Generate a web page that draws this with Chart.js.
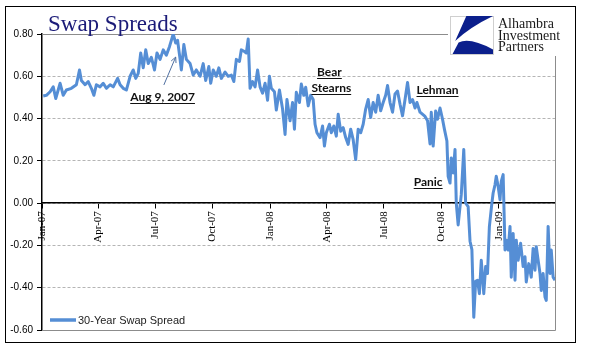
<!DOCTYPE html>
<html>
<head>
<meta charset="utf-8">
<script src="https://cdn.jsdelivr.net/npm/chart.js@4.4.0/dist/chart.umd.min.js"></script>
<style>
  html, body { margin: 0; padding: 0; background: #fff; }
</style>
</head>
<body>
<canvas id="swapChart" width="598" height="361"></canvas>
<script>
// =================== DATA ===================
// x = days since 1 Jan 2007, y = 30-year swap spread
const days = [
  2, 7, 13, 18, 22, 29, 34, 39, 47, 55, 60, 63, 69, 74, 79, 83, 87, 93, 98, 103,
  109, 114, 121, 125, 130, 135, 141, 146, 150, 154, 158, 162, 166, 170, 175, 180, 184, 189, 194, 199,
  204, 207, 210, 214, 217, 221, 223, 227, 231, 237, 242, 247, 253, 258, 262, 267, 270, 274, 279, 283,
  287, 293, 298, 303, 307, 311, 316, 319, 324, 327, 330, 333, 337, 341, 345, 349, 353, 357, 361, 364,
  367, 372, 375, 380,
  385, 389, 392, 397, 401, 404, 407, 412, 415, 419, 422, 426, 430, 434, 437, 440, 445, 449, 452, 455,
  460, 463, 467, 471, 474, 478, 482, 486, 490, 494, 498, 502, 506, 510, 514, 518, 522, 526, 530, 534,
  538, 542, 546, 550, 553, 557, 561, 565, 569, 573, 577, 581, 585, 589, 593, 597, 600, 605,
  613, 617, 621, 623, 626, 630, 633, 637, 641, 644, 648, 650, 653, 655, 658, 661, 663, 666, 669, 671,
  675, 678, 682, 685, 688, 691, 694, 697, 700, 703, 707, 710, 713, 716, 720, 722, 725, 727, 730, 733,
  735, 738, 741, 743, 746, 749, 751, 754, 757, 759, 762, 766, 770, 773, 775, 779, 783, 786, 789, 791,
  794, 797, 799, 802, 805, 807, 810, 813, 815, 818, 821
];
const spread = [
  0.507, 0.51, 0.527, 0.55, 0.495, 0.567, 0.51, 0.535, 0.543, 0.56, 0.63, 0.58, 0.56, 0.575, 0.543, 0.51, 0.56, 0.55, 0.567, 0.543,
  0.56, 0.55, 0.59, 0.56, 0.543, 0.535, 0.60, 0.63, 0.59, 0.614, 0.71, 0.64, 0.725, 0.66, 0.69, 0.63, 0.71, 0.68, 0.725, 0.70,
  0.74, 0.77, 0.80, 0.757, 0.77, 0.68, 0.63, 0.75, 0.68, 0.66, 0.606, 0.63, 0.60, 0.66, 0.58, 0.646, 0.567, 0.63, 0.60, 0.64,
  0.59, 0.62, 0.60, 0.606, 0.575, 0.68, 0.67, 0.725, 0.717, 0.71, 0.776, 0.543, 0.575, 0.55, 0.63, 0.55, 0.52, 0.567, 0.487, 0.60,
  0.543, 0.527, 0.44, 0.535,
  0.445, 0.325, 0.49, 0.39, 0.476, 0.35, 0.524, 0.476, 0.563, 0.51, 0.548, 0.46, 0.51, 0.49, 0.373, 0.333, 0.31, 0.365, 0.27, 0.333,
  0.373, 0.333, 0.365, 0.317, 0.42, 0.34, 0.357, 0.31, 0.278, 0.35, 0.30, 0.206, 0.35, 0.333, 0.373, 0.445, 0.49, 0.405, 0.476, 0.43,
  0.51, 0.437, 0.476, 0.51, 0.556, 0.476, 0.43, 0.516, 0.53, 0.468, 0.413, 0.49, 0.571, 0.476, 0.49, 0.45, 0.476, 0.43,
  0.41, 0.39, 0.28, 0.43, 0.27, 0.436, 0.397, 0.45, 0.397, 0.35, 0.294, 0.127, 0.095, 0.214, 0.143, 0.254, 0.0, -0.103, -0.016, 0.04,
  0.254, 0.0, -0.016, -0.18, -0.22, -0.54, -0.37, -0.365, -0.428, -0.27, -0.428, -0.30, -0.333, -0.11, 0.0, 0.048, 0.087, 0.127, 0.08, 0.016,
  0.103, 0.135, -0.222, -0.175, -0.222, -0.11, -0.35, -0.143, -0.365, -0.175, -0.27, -0.19, -0.30, -0.254, -0.373, -0.286, -0.35, -0.214, -0.317, -0.206,
  -0.27, -0.333, -0.413, -0.333, -0.444, -0.46, -0.11, -0.333, -0.222, -0.35, -0.365
];

const tickDays = [0, 90, 181, 273, 365, 456, 547, 639, 731];
const tickLabels = ['Jan-07', 'Apr-07', 'Jul-07', 'Oct-07', 'Jan-08', 'Apr-08', 'Jul-08', 'Oct-08', 'Jan-09'];
const yTicks = [-0.6, -0.4, -0.2, 0, 0.2, 0.4, 0.6, 0.8];

const seriesName = '30-Year Swap Spread';
const lineColor = '#558ed5';

// event labels (day, value) on the chart
const notes = [
  { text: 'Aug 9, 2007', day: 193, value: 0.483 },
  { text: 'Bear', day: 460, value: 0.601 },
  { text: 'Stearns', day: 463, value: 0.527 },
  { text: 'Lehman', day: 633, value: 0.517 },
  { text: 'Panic', day: 618, value: 0.08 }
];

// =================== DECORATION ===================
const decor = {
  id: 'decor',
  beforeDatasetsDraw(chart) {
    const { ctx, chartArea: a } = chart;
    ctx.save();
    ctx.strokeStyle = '#8c8c8c';
    ctx.lineWidth = 1;
    ctx.beginPath();
    ctx.moveTo(a.left, a.top + 0.5);
    ctx.lineTo(a.right + 0.5, a.top + 0.5);
    ctx.lineTo(a.right + 0.5, a.bottom + 0.5);
    ctx.lineTo(a.left, a.bottom + 0.5);
    ctx.stroke();
    ctx.restore();
  },
  afterDraw(chart) {
    const { ctx } = chart;
    const xs = chart.scales.x, ys = chart.scales.y;
    ctx.save();

    // outer frame
    ctx.strokeStyle = '#000';
    ctx.lineWidth = 1;
    ctx.strokeRect(5.5, 6.5, 570, 336);

    // title
    ctx.fillStyle = '#1b1b78';
    ctx.font = '23px "Liberation Serif"';
    ctx.textBaseline = 'alphabetic';
    ctx.fillText('Swap Spreads', 48, 31);

    // logo
    ctx.fillStyle = '#fff';
    ctx.fillRect(448, 8, 127, 48);
    const lx = 450, ly = 16, lw = 43, lh = 38;
    ctx.strokeStyle = '#cfcfcf';
    ctx.strokeRect(lx + 0.5, ly + 0.5, lw, lh);
    ctx.fillStyle = '#0b1f8c';
    ctx.beginPath();
    ctx.moveTo(lx + lw * 0.38, ly);
    ctx.lineTo(lx + lw, ly);
    ctx.quadraticCurveTo(lx + lw * 0.45, ly + lh * 0.3, lx + lw * 0.12, ly + lh * 0.66);
    ctx.closePath();
    ctx.fill();
    ctx.beginPath();
    ctx.moveTo(lx + lw * 0.06, ly + lh);
    ctx.lineTo(lx + lw, ly + lh);
    ctx.lineTo(lx + lw, ly + lh * 0.88);
    ctx.quadraticCurveTo(lx + lw * 0.45, ly + lh * 0.55, lx + lw * 0.2, ly + lh * 0.7);
    ctx.closePath();
    ctx.fill();
    ctx.fillStyle = '#1a1a1a';
    ctx.font = '14px "Liberation Serif"';
    ctx.fillText('Alhambra', 498, 28);
    ctx.fillText('Investment', 498, 39.5);
    ctx.fillText('Partners', 498, 51);

    // event notes
    ctx.font = 'bold 12px Lato';
    ctx.fillStyle = '#111';
    ctx.strokeStyle = '#111';
    ctx.textAlign = 'center';
    notes.forEach(n => {
      const x = xs.getPixelForValue(n.day), y = ys.getPixelForValue(n.value);
      ctx.fillText(n.text, x, y);
      const w = ctx.measureText(n.text).width;
      ctx.beginPath();
      ctx.moveTo(x - w / 2, Math.round(y) + 2.5);
      ctx.lineTo(x + w / 2, Math.round(y) + 2.5);
      ctx.stroke();
    });

    // arrow to Aug 9, 2007
    const ax1 = xs.getPixelForValue(195), ay1 = ys.getPixelForValue(0.559);
    const ax2 = xs.getPixelForValue(214), ay2 = ys.getPixelForValue(0.691);
    ctx.strokeStyle = '#4f6fa0';
    ctx.lineWidth = 1;
    ctx.beginPath();
    ctx.moveTo(ax1, ay1);
    ctx.lineTo(ax2, ay2);
    const ang = Math.atan2(ay2 - ay1, ax2 - ax1);
    ctx.moveTo(ax2 - 6 * Math.cos(ang - 0.45), ay2 - 6 * Math.sin(ang - 0.45));
    ctx.lineTo(ax2, ay2);
    ctx.lineTo(ax2 - 6 * Math.cos(ang + 0.45), ay2 - 6 * Math.sin(ang + 0.45));
    ctx.stroke();

    // legend
    ctx.strokeStyle = lineColor;
    ctx.lineWidth = 3.5;
    ctx.beginPath();
    ctx.moveTo(50, 320);
    ctx.lineTo(76, 320);
    ctx.stroke();
    ctx.fillStyle = '#222';
    ctx.textAlign = 'left';
    ctx.font = '11px "Liberation Sans"';
    ctx.fillText(seriesName, 78, 324);

    ctx.restore();
  }
};

// =================== CHART ===================
new Chart(document.getElementById('swapChart'), {
  type: 'line',
  data: {
    datasets: [{
      label: seriesName,
      data: days.map((d, i) => ({ x: d, y: spread[i] })),
      borderColor: lineColor,
      borderWidth: 3,
      pointRadius: 0,
      tension: 0,
      borderJoinStyle: 'round'
    }]
  },
  options: {
    responsive: false,
    animation: false,
    layout: { padding: { left: 5, top: 34, right: 43, bottom: 31 } },
    plugins: {
      legend: { display: false },
      tooltip: { enabled: false }
    },
    scales: {
      x: {
        type: 'linear',
        position: { y: 0 },
        min: 0,
        max: 821,
        afterBuildTicks: s => { s.ticks = tickDays.map(v => ({ value: v })); },
        ticks: {
          autoSkip: false,
          minRotation: 90,
          maxRotation: 90,
          padding: 3,
          color: '#000',
          font: { family: '"Liberation Serif"', size: 11 },
          callback: v => tickLabels[tickDays.indexOf(v)]
        },
        grid: { drawOnChartArea: false, drawTicks: true, tickLength: 5, tickColor: '#000' },
        border: { color: '#000', width: 1.5 }
      },
      y: {
        min: -0.6,
        max: 0.8,
        afterBuildTicks: s => { s.ticks = yTicks.map(v => ({ value: v })); },
        afterFit: s => { s.width = 37; },
        ticks: {
          padding: 4,
          color: '#000',
          font: { family: '"Liberation Sans"', size: 10 },
          callback: v => v.toFixed(2)
        },
        grid: { color: '#b5b5b5', tickColor: '#000', tickLength: 5 },
        border: { color: '#000', width: 1.5, dash: [3, 2] }
      }
    }
  },
  plugins: [decor]
});
</script>
</body>
</html>
